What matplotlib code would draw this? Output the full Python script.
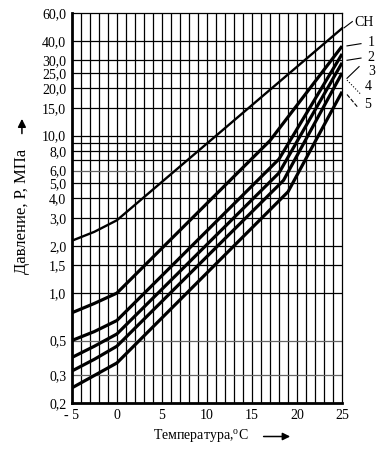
import numpy as np
import matplotlib
matplotlib.use("Agg")
import matplotlib.pyplot as plt
from matplotlib.ticker import FixedLocator, NullLocator

# ---- data ----
x_ch = [-5, -2.5, 0, 25]
y_ch = [2.15, 2.45, 2.9, 48.0]

x_1 = [-5, -2.5, 0, 17, 25]
y_1 = [0.75, 0.86, 1.0, 9.3, 37.0]
x_2 = [-5, -2.5, 0, 18, 25]
y_2 = [0.50, 0.57, 0.67, 7.1, 33.0]
x_3 = [-5, -2.5, 0, 18, 25]
y_3 = [0.39, 0.46, 0.55, 5.8, 29.0]
x_4 = [-5, -2.5, 0, 18.5, 25]
y_4 = [0.32, 0.38, 0.46, 5.2, 25.0]
x_5 = [-5, -2.5, 0, 19, 25]
y_5 = [0.25, 0.30, 0.36, 4.4, 19.0]

series_labels = ["CH", "1", "2", "3", "4", "5"]

y_labeled = [0.2, 0.3, 0.5, 1.0, 1.5, 2.0, 3.0, 4.0, 5.0, 6.0, 8.0, 10.0,
             15.0, 20.0, 25.0, 30.0, 40.0, 60.0]
y_grid_extra = [7.0, 9.0]
x_ticks = [-5, 0, 5, 10, 15, 20, 25]
x_tick_labels = ["- 5", "0", "5", "10", "15", "20", "25"]

# ---- figure ----
plt.rcParams['font.family'] = ['Liberation Serif', 'DejaVu Serif']
fig = plt.figure(figsize=(3.78, 4.5), dpi=100)
ax = fig.add_axes([0.190, 0.104, 0.715, 0.867])
ax.set_yscale('log')
ax.set_xlim(-5, 25)
ax.set_ylim(0.2, 60)

# grid
for xv in range(-4, 25):
    ax.axvline(xv, color='black', lw=0.9, zorder=1)
gray_lines = [0.3, 0.5, 6.0]
for yv in y_labeled[1:-1] + y_grid_extra:
    ax.axhline(yv, color=('#666666' if yv in gray_lines else 'black'), lw=0.9, zorder=1)

# curves
ax.plot(x_ch, y_ch, color='black', lw=1.7, zorder=3)
for xs, ys in [(x_1, y_1), (x_2, y_2), (x_3, y_3), (x_4, y_4), (x_5, y_5)]:
    ax.plot(xs, ys, color='black', lw=2.3, zorder=3, solid_capstyle='butt')

# spines
for s in ['left', 'bottom']:
    ax.spines[s].set_linewidth(2.0)
for s in ['top', 'right']:
    ax.spines[s].set_linewidth(0.9)

ax.yaxis.set_major_locator(FixedLocator(y_labeled))
ax.yaxis.set_minor_locator(NullLocator())
ax.set_yticklabels([f"{v:.1f}".replace('.', ',') for v in y_labeled])
ax.set_xticks(x_ticks)
ax.set_xticklabels(x_tick_labels)
ax.tick_params(axis='both', length=0, labelsize=10, pad=4)

# axis labels with arrows
fig.text(0.058, 0.530, "Давление, Р, МПа", rotation=90, ha='center', va='center', fontsize=12)
ax.annotate("", xy=(0.058, 0.742), xytext=(0.058, 0.697), xycoords='figure fraction',
            arrowprops=dict(arrowstyle='-|>', color='black', lw=1.1, mutation_scale=12))
fig.text(0.53, 0.030, "Температура,$^{\\mathregular{o}}$С", ha='center', va='center', fontsize=10)
ax.annotate("", xy=(0.775, 0.030), xytext=(0.69, 0.030), xycoords='figure fraction',
            arrowprops=dict(arrowstyle='-|>', color='black', lw=1.1, mutation_scale=11))

# right-hand labels with leaders
lab_pos = [(0.938, 0.949), (0.973, 0.905), (0.973, 0.873), (0.973, 0.842),
           (0.966, 0.808), (0.963, 0.768)]
leaders = [((0.910, 0.938), (0.932, 0.952), '-'),
           ((0.918, 0.898), (0.955, 0.903), '-'),
           ((0.918, 0.866), (0.955, 0.871), '-'),
           ((0.918, 0.826), (0.950, 0.852), '-'),
           ((0.918, 0.822), (0.955, 0.790), ':'),
           ((0.918, 0.790), (0.948, 0.760), '--')]
for (tx, ty), lab in zip(lab_pos, series_labels):
    fig.text(tx, ty, lab, ha='left', va='center', fontsize=10)
for (p0, p1, ls) in leaders:
    fig.add_artist(plt.Line2D([p0[0], p1[0]], [p0[1], p1[1]], color='black', lw=0.8, ls=ls))

fig.savefig("out.png", dpi=100)
